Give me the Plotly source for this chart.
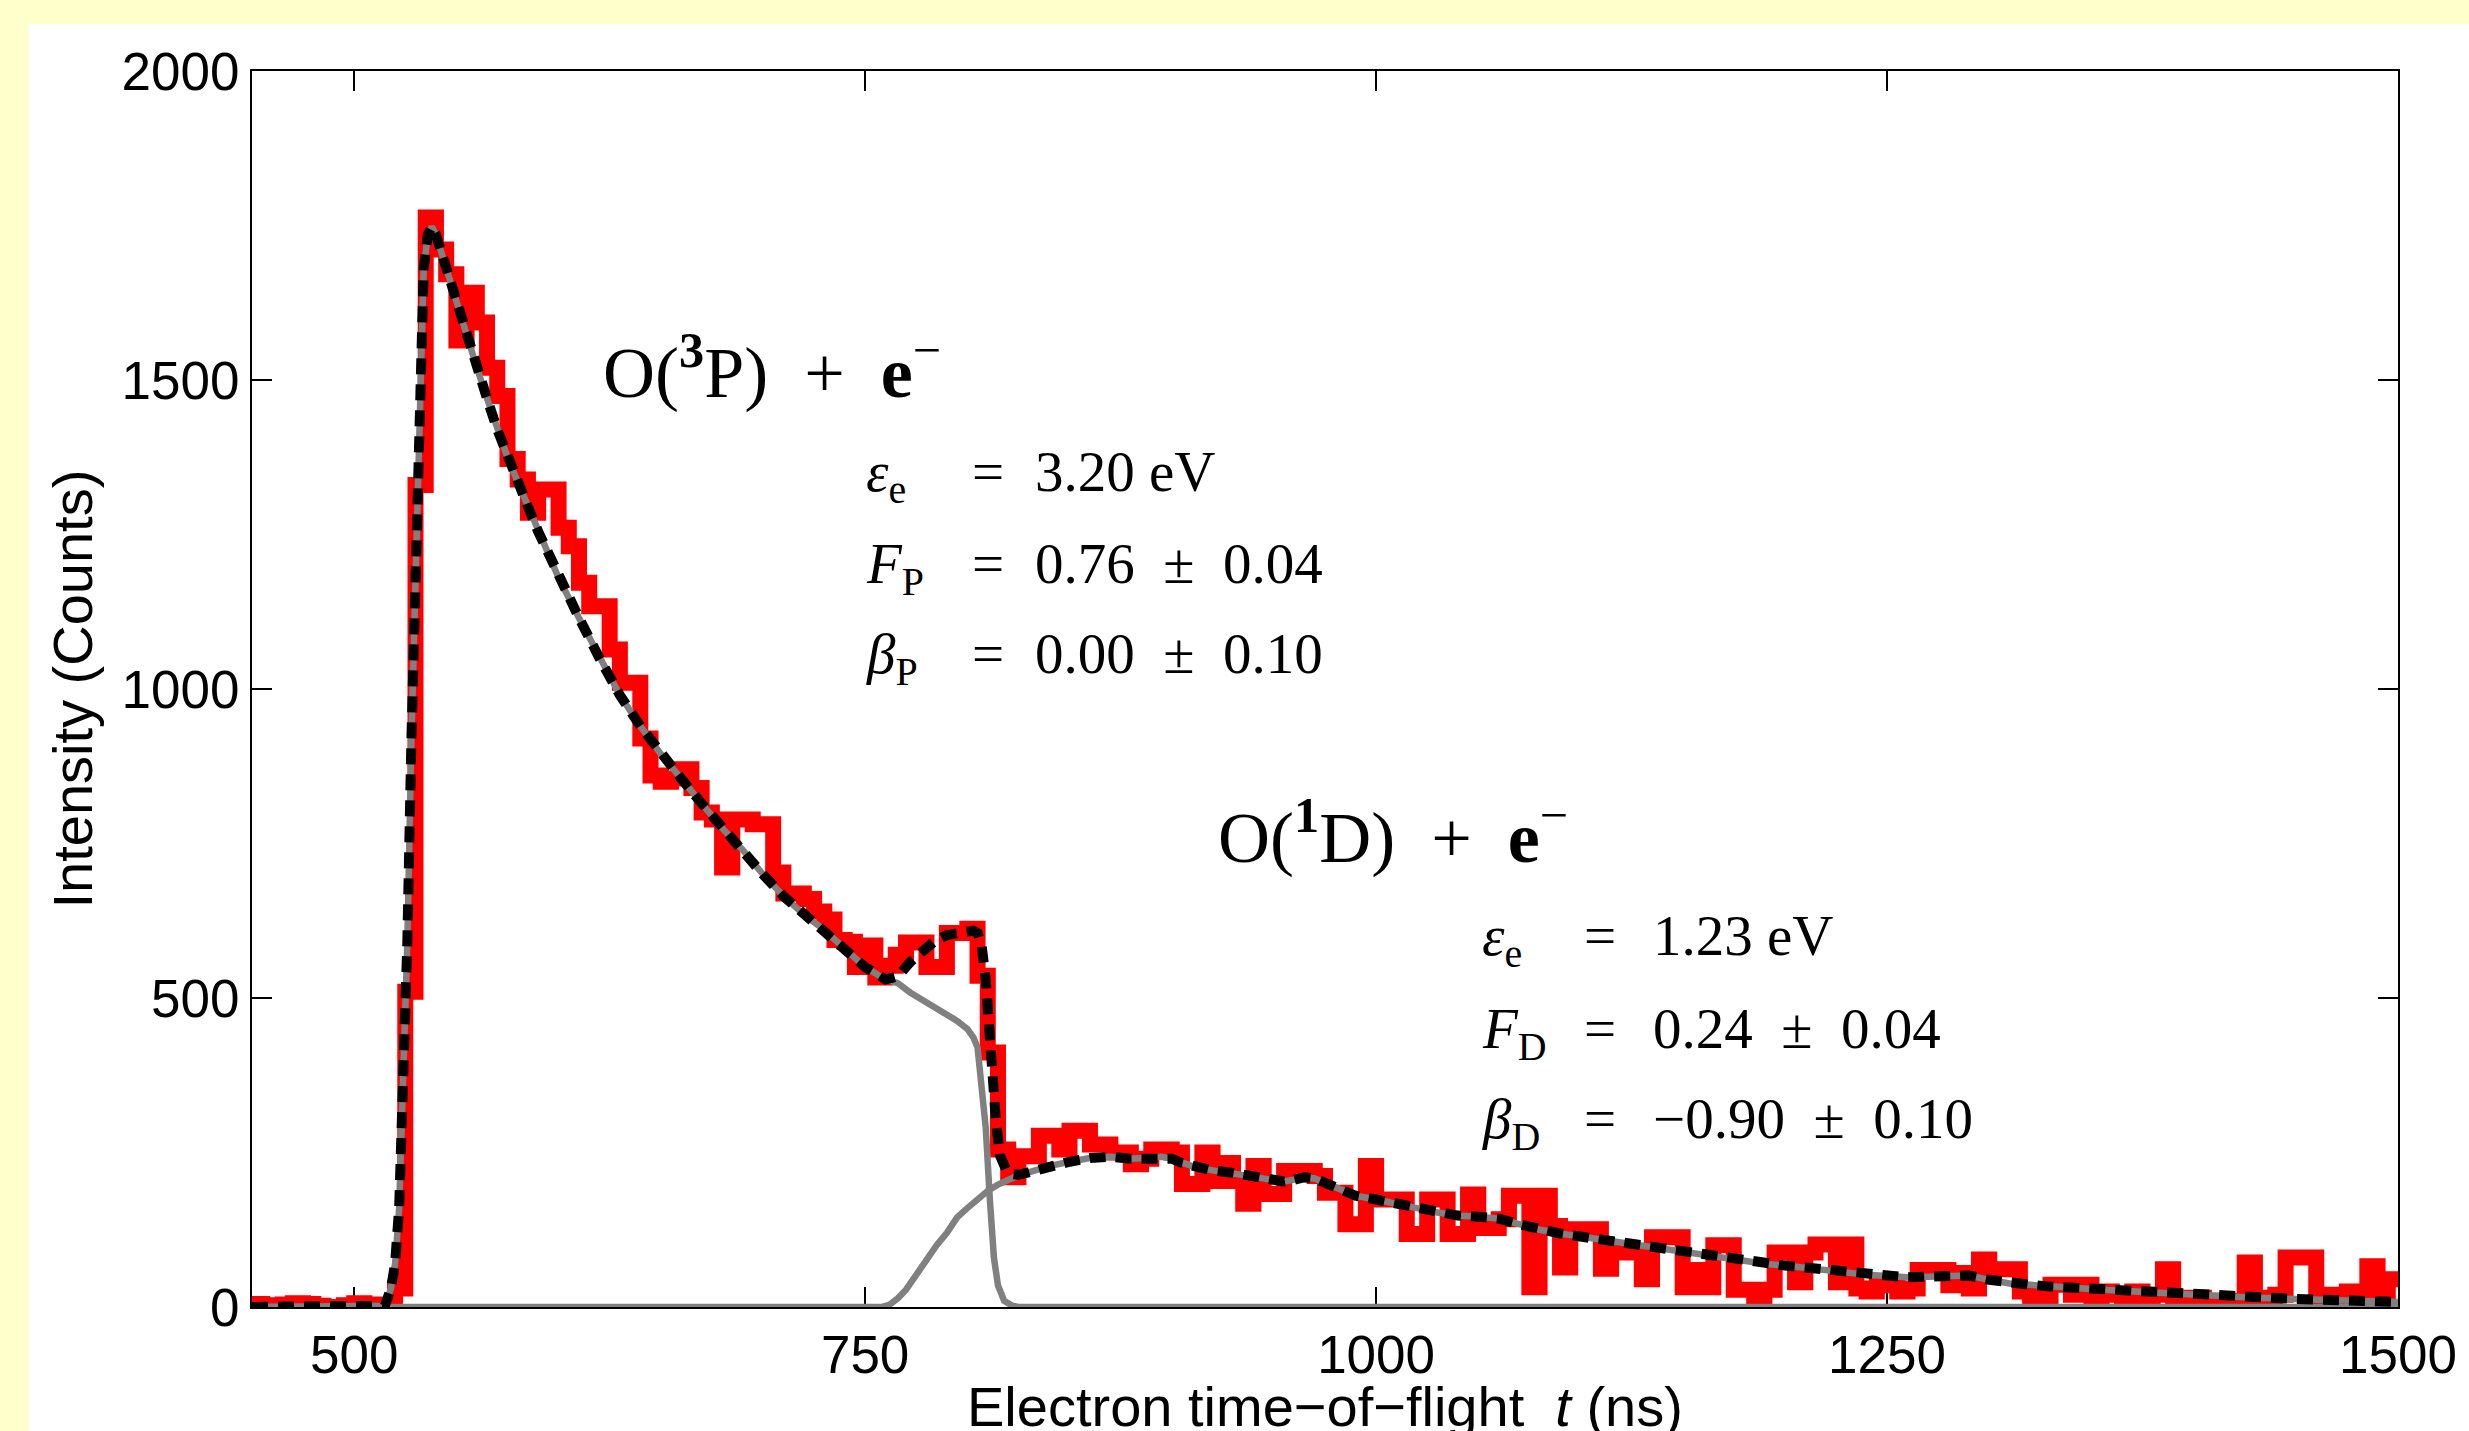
import plotly.graph_objects as go

# ---------------- data ----------------
BIN_START = 450      # ns, left edge of first histogram bin
BIN_WIDTH = 5        # ns
counts = [
    5, 3, 0, 4, 6, 5, 2, 0, 0, 3,
    6, 4, 0, 3, 30, 510, 1330, 1763, 1711, 1671,
    1564, 1641, 1593, 1520, 1474, 1372, 1339, 1285, 1323, 1323,
    1261, 1231, 1172, 1134, 1134, 1064, 1010, 1010, 920, 860,
    850, 855, 870, 840, 800, 789, 711, 789, 789, 781,
    781, 703, 669, 669, 660, 640, 627, 594, 591, 550,
    585, 533, 552, 570, 590, 590, 550, 550, 605, 605,
    612, 536, 412, 255, 210, 244, 244, 277, 277, 255,
    285, 285, 263, 263, 250, 250, 231, 240, 255, 255,
    250, 199, 199, 250, 204, 233, 204, 167, 228, 183,
    183, 220, 215, 220, 212, 185, 185, 134, 134, 228,
    174, 174, 174, 118, 118, 174, 174, 118, 118, 182,
    128, 128, 142, 180, 180, 32, 180, 131, 64, 126,
    126, 126, 62, 88, 88, 88, 45, 113, 113, 113,
    32, 60, 32, 100, 100, 28, 28, 15, 28, 88,
    88, 40, 88, 101, 101, 40, 101, 30, 25, 40,
    35, 25, 30, 60, 60, 60, 35, 55, 30, 77,
    61, 61, 61, 25, 15, 5, 36, 36, 20, 36,
    15, 25, 20, 10, 25, 15, 20, 61, 15, 5,
    15, 10, 5, 10, 5, 72, 15, 10, 20, 80,
    80, 80, 10, 20, 10, 25, 5, 66, 15, 45,
]

# O(3P) component of the fit (grey)
p_t = [450, 505, 510, 513, 515, 518, 520, 522, 524, 526, 528, 530, 532, 534, 536, 538,
       540, 545, 550, 555, 560, 565, 570, 575, 580, 585, 590, 600, 610, 620, 630, 640,
       650, 660, 670, 680, 690, 700, 710, 720, 730, 740, 750, 760, 766, 772, 778, 784,
       790, 795, 800, 803, 805, 807, 809, 811, 813, 815, 818, 822, 825, 1500]
p_val = [0, 0, 0, 1, 2, 30, 70, 160, 340, 590, 920, 1200, 1480, 1680, 1735, 1748,
         1735, 1680, 1625, 1575, 1520, 1470, 1420, 1375, 1335, 1295, 1255, 1180, 1115, 1050, 990, 940,
         895, 855, 815, 775, 740, 700, 665, 635, 610, 580, 550, 530, 524, 509, 497, 486,
         473, 463, 450, 436, 420, 360, 290, 175, 80, 35, 10, 2, 0, 0]

# O(1D) component of the fit (grey)
d_t = [450, 758, 762, 766, 770, 775, 780, 785, 790, 795,
       800, 805, 810, 815, 820, 825, 830, 840, 850, 860,
       870, 880, 890, 895, 900, 905, 910, 920, 930, 940,
       950, 955, 960, 965, 970, 980, 990, 1000, 1010, 1020,
       1030, 1040, 1050, 1060, 1070, 1080, 1090, 1100, 1110, 1120,
       1130, 1140, 1150, 1160, 1170, 1180, 1190, 1200, 1210, 1220,
       1230, 1240, 1250, 1260, 1270, 1280, 1290, 1300, 1310, 1320,
       1330, 1340, 1350, 1360, 1370, 1380, 1390, 1400, 1410, 1420,
       1430, 1440, 1450, 1460, 1470, 1480, 1490, 1500]
d_val = [0, 0, 4, 14, 28, 52, 78, 100, 120, 145,
         160, 175, 188, 198, 206, 213, 218, 228, 235, 241,
         243, 240, 242, 243, 240, 233, 228, 221, 217, 211,
         205, 203, 206, 210, 208, 195, 180, 174, 168, 160,
         153, 148, 146, 143, 134, 125, 119, 114, 109, 104,
         99, 95, 91, 86, 80, 74, 70, 67, 64, 60,
         56, 52, 49, 48, 49, 51, 51, 44, 38, 36,
         33, 31, 29, 27, 25, 23, 21, 20, 18, 16,
         15, 14, 13, 12, 11, 10, 9, 8]

# total fit (black dashed)
tot_t = [450, 505, 510, 513, 515, 518, 520, 522, 524, 526, 528, 530, 532, 534, 536, 538,
         540, 545, 550, 555, 560, 565, 570, 575, 580, 585, 590, 600, 610, 620, 630, 640,
         650, 660, 670, 680, 690, 700, 710, 720, 730, 740, 750, 760,
         766, 772, 778, 784, 790, 795, 800, 803, 805, 807, 809, 811, 812, 814, 816, 819, 822, 825,
         830, 840, 850, 860, 870, 880, 890, 895, 900, 905, 910, 920, 930, 940,
         950, 955, 960, 965, 970, 980, 990, 1000, 1010, 1020,
         1030, 1040, 1050, 1060, 1070, 1080, 1090, 1100, 1110, 1120,
         1130, 1140, 1150, 1160, 1170, 1180, 1190, 1200, 1210, 1220,
         1230, 1240, 1250, 1260, 1270, 1280, 1290, 1300, 1310, 1320,
         1330, 1340, 1350, 1360, 1370, 1380, 1390, 1400, 1410, 1420,
         1430, 1440, 1450, 1460, 1470, 1480, 1490, 1500]
tot_val = [0, 0, 0, 1, 2, 30, 70, 160, 340, 590, 920, 1200, 1480, 1680, 1735, 1748,
           1735, 1680, 1625, 1575, 1520, 1470, 1420, 1375, 1335, 1295, 1255, 1180, 1115, 1050, 990, 940,
           895, 855, 815, 775, 740, 700, 665, 635, 610, 580, 550, 530,
           535, 558, 575, 592, 602, 606, 610, 609, 605, 585, 530, 420, 370, 300, 245, 222, 215, 214,
           218, 228, 235, 241, 243, 240, 242, 243, 240, 233, 228, 221, 217, 211,
           205, 203, 206, 210, 208, 195, 180, 174, 168, 160,
           153, 148, 146, 143, 134, 125, 119, 114, 109, 104,
           99, 95, 91, 86, 80, 74, 70, 67, 64, 60,
           56, 52, 49, 48, 49, 51, 51, 44, 38, 36,
           33, 31, 29, 27, 25, 23, 21, 20, 18, 16,
           15, 14, 13, 12, 11, 10, 9, 8]

x_ticks = [500, 750, 1000, 1250, 1500]
y_ticks = [0, 500, 1000, 1500, 2000]

assert len(p_t) == len(p_val)
assert len(d_t) == len(d_val)
assert len(tot_t) == len(tot_val)

# ---------------- figure ----------------
edges = [BIN_START + BIN_WIDTH * i for i in range(len(counts) + 1)]
hist_y = counts + [counts[-1]]

fig = go.Figure()
fig.add_trace(go.Scatter(x=edges, y=hist_y, mode="lines",
                         line=dict(color="#FF0000", width=16, shape="hv"),
                         hoverinfo="skip", showlegend=False))
fig.add_trace(go.Scatter(x=p_t, y=p_val, mode="lines",
                         line=dict(color="#808080", width=6.5),
                         hoverinfo="skip", showlegend=False))
fig.add_trace(go.Scatter(x=d_t, y=d_val, mode="lines",
                         line=dict(color="#808080", width=6.5),
                         hoverinfo="skip", showlegend=False))
fig.add_trace(go.Scatter(x=tot_t, y=tot_val, mode="lines",
                         line=dict(color="#000000", width=10, dash="16px,10px"),
                         hoverinfo="skip", showlegend=False))

SANS = "Liberation Sans, Arial, sans-serif"
SERIF = "Liberation Serif, Times New Roman, serif"

axis_common = dict(
    ticks="inside", ticklen=20, tickwidth=2, tickcolor="black",
    showline=True, linecolor="black", linewidth=2, mirror="ticks",
    showgrid=False, zeroline=False,
    tickfont=dict(family=SANS, size=53, color="black"),
    layer="below traces",
)

fig.update_xaxes(range=[450, 1500], tickvals=x_ticks,
                 ticktext=[str(v) for v in x_ticks], **axis_common)
fig.update_yaxes(range=[0, 2000], tickvals=y_ticks,
                 ticktext=[str(v) for v in y_ticks], **axis_common)

annotations = []
# axis titles
annotations.append(dict(text="Electron time\u2212of\u2212flight\u00a0\u00a0<i>t</i>\u00a0(ns)",
                        xref="paper", yref="paper", x=0.5, y=-0.0801,
                        xanchor="center", yanchor="middle", showarrow=False,
                        font=dict(family=SANS, size=56, color="black")))
annotations.append(dict(text="Intensity (Counts)", textangle=-90,
                        xref="paper", yref="paper", x=-0.0841, y=0.5,
                        xanchor="center", yanchor="middle", showarrow=False,
                        font=dict(family=SANS, size=56, color="black")))

HEAD = 72
PAR = 57


def head(text, x, y):
    annotations.append(dict(text=text, xref="x", yref="y", x=x, y=y,
                            xanchor="left", yanchor="bottom", showarrow=False,
                            font=dict(family=SERIF, size=HEAD, color="black")))


def row(lhs, rhs, xl, xe, xr, y):
    for txt, xx in ((lhs, xl), ("=", xe), (rhs, xr)):
        annotations.append(dict(text=txt, xref="x", yref="y", x=xx, y=y,
                                xanchor="left", yanchor="top", showarrow=False,
                                font=dict(family=SERIF, size=PAR, color="black")))


NB = "\u00a0"
PM = NB + NB + "\u00b1" + NB + NB

head("O(<b><sup>3</sup></b>P)" + NB + NB + "+" + NB + NB + "<b>e</b><sup>\u2212</sup>", 620.6, 1444.0)
row("<i>\u03b5</i><sub>e</sub>", "3.20" + NB + "eV", 749.4, 801.3, 832.0, 1405.7)
row("<i>F</i><sub>P</sub>", "0.76" + PM + "0.04", 749.4, 801.3, 832.0, 1257.3)
row("<i>\u03b2</i><sub>P</sub>", "0.00" + PM + "0.10", 749.4, 801.3, 832.0, 1111.7)

head("O(<b><sup>1</sup></b>D)" + NB + NB + "+" + NB + NB + "<b>e</b><sup>\u2212</sup>", 921.8, 691.5)
row("<i>\u03b5</i><sub>e</sub>", "1.23" + NB + "eV", 1050.6, 1100.9, 1134.6, 655.8)
row("<i>F</i><sub>D</sub>", "0.24" + PM + "0.04", 1050.6, 1100.9, 1134.6, 504.9)
row("<i>\u03b2</i><sub>D</sub>", "\u22120.90" + PM + "0.10", 1050.6, 1100.9, 1134.6, 359.2)

shapes = [dict(type="rect", xref="paper", yref="paper",
               x0=-0.104, x1=1.2, y0=-0.3, y1=1.038,
               fillcolor="white", line=dict(width=0), layer="below")]

fig.update_layout(
    width=2469, height=1431, autosize=False,
    margin=dict(l=252, r=65, t=71, b=124, pad=0),
    paper_bgcolor="#FFFFCC", plot_bgcolor="white",
    annotations=annotations, shapes=shapes,
    showlegend=False,
)

fig.write_html("out.html", config={"displayModeBar": False},
               post_script="document.body.style.margin='0';")
